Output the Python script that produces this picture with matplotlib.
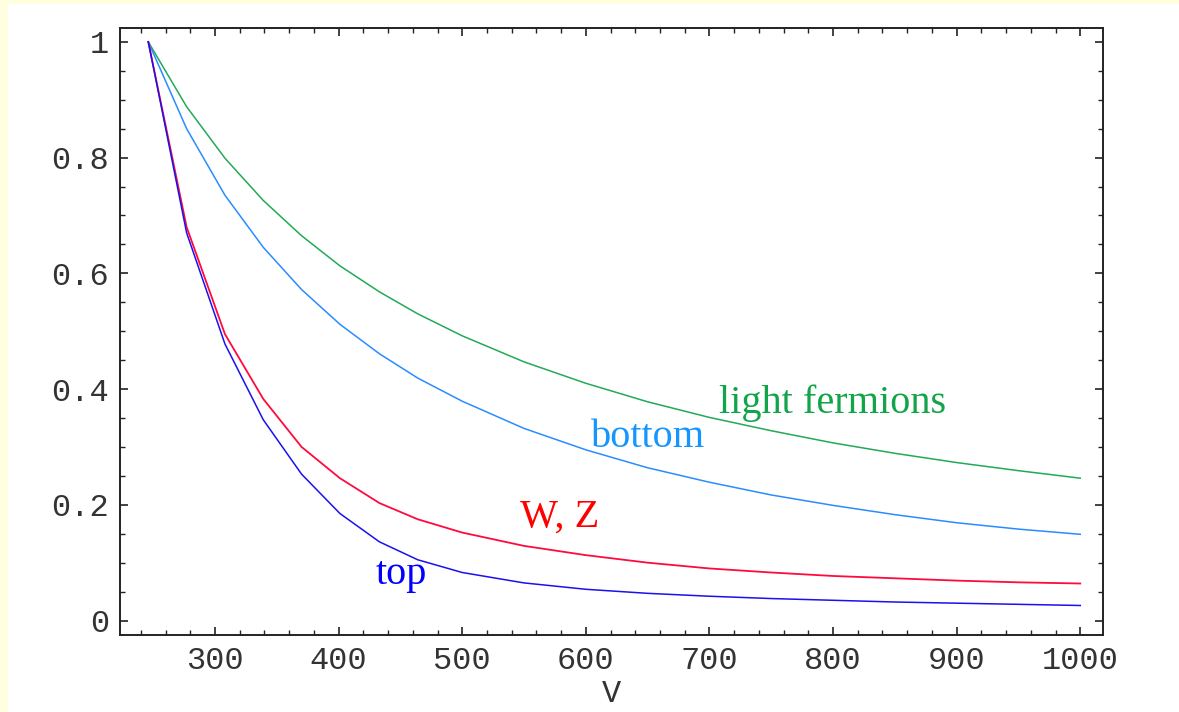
import matplotlib
matplotlib.use('Agg')
from matplotlib import pyplot as plt
from matplotlib.patches import Rectangle
from matplotlib.ticker import MultipleLocator, FuncFormatter

# values
V = [246, 277, 308, 339, 370, 401, 433, 464, 500, 550, 600, 650, 700, 750, 800, 850, 900, 950, 1000]
light = [1.0, 0.888, 0.799, 0.726, 0.665, 0.613, 0.568, 0.530, 0.492, 0.447, 0.410, 0.378,
         0.351, 0.328, 0.307, 0.289, 0.273, 0.259, 0.246]
bottom = [1.0, 0.850, 0.735, 0.645, 0.572, 0.512, 0.461, 0.419, 0.379, 0.332, 0.295, 0.264,
          0.239, 0.217, 0.199, 0.183, 0.169, 0.158, 0.149]
wz = [1.0, 0.680, 0.495, 0.383, 0.300, 0.246, 0.203, 0.175, 0.152, 0.129, 0.113, 0.100,
      0.090, 0.083, 0.077, 0.073, 0.069, 0.066, 0.064]
top = [1.0, 0.670, 0.478, 0.347, 0.253, 0.185, 0.136, 0.105, 0.083, 0.065, 0.054, 0.047,
       0.042, 0.038, 0.035, 0.032, 0.030, 0.028, 0.026]

labels = ['light fermions', 'bottom', 'W, Z', 'top']
label_pos = [(708, 0.376), (604, 0.317), (547, 0.179), (430, 0.079)]

c_green = '#22aa55'
c_lblue = '#2a8cff'
c_red = '#ff0a3c'
c_blue = '#1a10f0'
t_green = '#12a448'
t_lblue = '#1596ff'
t_red = '#ff0000'
t_blue = '#0000ff'


def main():
    fig = plt.figure(figsize=(11.79, 7.12), dpi=100, facecolor='#ffffe0')
    panel = Rectangle((8 / 1179, 0), 1.0, 708 / 712, transform=fig.transFigure,
                      facecolor='white', edgecolor='none', zorder=-10)
    fig.add_artist(panel)
    ax = fig.add_axes([120 / 1179, 1 - 635 / 712, (1103 - 120) / 1179, (635 - 28) / 712])

    ax.plot(V, light, color=c_green, lw=1.1)
    ax.plot(V, bottom, color=c_lblue, lw=1.1)
    ax.plot(V, wz, color=c_red, lw=1.3)
    ax.plot(V, top, color=c_blue, lw=1.1)

    for txt, (x, y), col in zip(labels, label_pos, [t_green, t_lblue, t_red, t_blue]):
        ax.text(x, y, txt, color=col, fontsize=29, family='Liberation Serif',
                ha='left', va='center')

    ax.set_xlim(223.1, 1018.4)
    ax.set_ylim(-0.025, 1.024)
    ax.xaxis.set_major_locator(MultipleLocator(100))
    ax.xaxis.set_minor_locator(MultipleLocator(20))
    ax.yaxis.set_major_locator(MultipleLocator(0.2))
    ax.yaxis.set_minor_locator(MultipleLocator(0.05))
    ax.yaxis.set_major_formatter(FuncFormatter(lambda v, p: '%g' % round(v, 2)))
    ax.set_xticks([300, 400, 500, 600, 700, 800, 900, 1000])

    ax.tick_params(which='both', direction='in', top=True, right=True, color='#222222')
    ax.tick_params(which='major', length=6, width=1.2, labelsize=23)
    ax.tick_params(axis='x', which='major', pad=8)
    ax.tick_params(axis='y', which='major', pad=8)
    ax.tick_params(which='minor', length=3.5, width=1.0)
    for lab in ax.get_xticklabels() + ax.get_yticklabels():
        lab.set_family('Liberation Mono')
        lab.set_color('#333333')
    for sp in ax.spines.values():
        sp.set_linewidth(1.4)
        sp.set_color('#222222')

    ax.set_xlabel('V', family='Liberation Mono', fontsize=23, color='#333333', labelpad=2)

    fig.savefig('out.png', dpi=100, facecolor=fig.get_facecolor())


if __name__ == '__main__':
    main()
